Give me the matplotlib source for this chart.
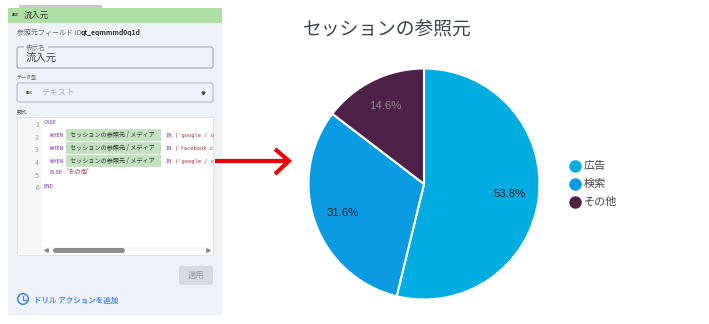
import math
import matplotlib
matplotlib.use("Agg")
import matplotlib.pyplot as plt
from matplotlib.patches import Rectangle, FancyBboxPatch, Circle

plt.rcParams['font.family'] = ['Noto Sans CJK JP', 'DejaVu Sans']

categories = ['広告', '検索', 'その他']
values = [53.8, 31.6, 14.6]
colors = ['#00ACE0', '#0A9BE3', '#4E2148']
label_colors = ['#222222', '#222222', '#8A8A8A']
title = 'セッションの参照元'
W, H = 709, 324
fig = plt.figure(figsize=(W/100, H/100), dpi=100, facecolor='white')

# pixel-coordinate overlay for the screenshot panel
ui = fig.add_axes([0, 0, 1, 1])
ui.set_xlim(0, W); ui.set_ylim(H, 0); ui.axis('off')

def rect(x, y, w, h, fc, ec='none', lw=0, z=1):
    ui.add_patch(Rectangle((x, y), w, h, fc=fc, ec=ec, lw=lw, zorder=z))
def rrect(x, y, w, h, fc, ec='none', lw=0.7, z=2, r=2):
    ui.add_patch(FancyBboxPatch((x+r, y+r), w-2*r, h-2*r, boxstyle=f'round,pad={r}', fc=fc, ec=ec, lw=lw, zorder=z))
def txt(x, y, s, size=6, color='#444444', **kw):
    kw.setdefault('va', 'center')
    ui.text(x, y, s, fontsize=size, color=color, zorder=6, **kw)
def code(x, y, s, color='#8A2BA8', size=3.9):
    txt(x, y, s, size, color, family=['DejaVu Sans Mono'])

rect(19, 5, 83, 3, '#C9C9C9')
rect(8, 8, 214, 307, '#EEF2F8', z=1)
rect(8, 8, 214, 15, '#AEE0A6', z=2)
txt(11, 15, 'ABC', 2.6, '#333333', fontweight='bold')
txt(24, 15, '流入元', 6, '#333333')
txt(17, 33, '参照元フィールド ID:', 5, '#666666')
txt(81, 33, 'qt_eqmmmd0q1d', 4.9, '#333333', fontweight='bold')
rrect(17, 47, 196, 21, '#EEF2F8', ec='#9A9FA6')
rect(24, 45, 24, 4, '#EEF2F8', z=3)
txt(26, 48, '表示名', 4.8, '#777777')
txt(26, 57.5, '流入元', 7.5, '#444444')
txt(17, 78, 'データ型', 3.6, '#555555')
rrect(17, 83, 196, 19, '#EEF2F8', ec='#B0B4BA')
txt(25, 92.5, 'ABC', 2.6, '#444444', fontweight='bold')
txt(41, 92.5, 'テキスト', 6, '#AAAAAA')
ui.plot([203], [92.5], marker='v', ms=2, color='#444444', zorder=4)
txt(17, 112, '数式', 3.8, '#555555')
rect(17, 117, 196, 138, '#FFFFFF', ec='#DDDDDD', lw=0.6, z=2)
rect(18, 118, 24, 136, '#F6F6F6', z=3)
rect(42, 246, 170, 8, '#FBFBFB', z=3)
ys = [122, 135, 148, 161, 172, 186]
line_y = [125, 138, 150, 163, 176, 188]
for i, y in enumerate(line_y):
    txt(39, y, str(i+1), 5, '#999999', ha='right')
code(44, ys[0], 'CASE')
code(44, ys[5], 'END')
tails = ["('google / o", "('facebook.c", "('google / c"]
for y, tail in zip(ys[1:4], tails):
    code(50, y+0.5, 'WHEN')
    rect(66, y-6, 95, 12, '#C2E2C0', z=4)
    txt(70, y, 'セッションの参照元 / メディア', 4.4, '#333333')
    code(165, y+0.5, 'IN')
    code(175, y+0.5, tail, '#A8333A')
code(50, ys[4], 'ELSE')
txt(66, ys[4], "'その他'", 4.6, '#A8333A')
ui.plot([46], [250], marker='<', ms=2.5, color='#888888', zorder=5)
ui.plot([208], [250], marker='>', ms=2.5, color='#888888', zorder=5)
ui.plot([55, 122], [250, 250], color='#8C8C8C', lw=3.6, solid_capstyle='round', zorder=5)
rrect(179, 266, 34, 19, '#D6DAE0', z=3)
txt(196, 275.5, '適用', 6, '#999999', ha='center')
ui.add_patch(Circle((23, 299), 5.3, fc='none', ec='#3B82E8', lw=1.1, zorder=5))
ui.plot([23, 23, 26], [296, 300, 300], color='#3B82E8', lw=0.9, zorder=5)
txt(34, 300, 'ドリル アクションを追加', 5.4, '#4A8CE8', fontweight='bold')

# red arrow
ui.plot([215, 288], [161, 161], color='#EE0000', lw=3, zorder=7, solid_capstyle='butt')
ui.plot([275, 289, 275], [149, 161, 174], color='#EE0000', lw=3, zorder=7,
        solid_joinstyle='miter', solid_capstyle='butt')

# chart title
txt(303, 29.5, title, 13.5, '#3F4448')

# pie
cx, cy, R = 424, 184, 115.5
pie_ax = fig.add_axes([(cx-R)/W, 1-(cy+R)/H, 2*R/W, 2*R/H])
wedges, _ = pie_ax.pie(values, colors=colors, startangle=90, counterclock=False, radius=1,
                       wedgeprops=dict(edgecolor='white', linewidth=1.5))
pie_ax.set_xlim(-1, 1); pie_ax.set_ylim(-1, 1)
pie_ax.patch.set_alpha(0)
cum = 0
for v, c in zip(values, label_colors):
    ang = math.radians(90 - (cum + v/2) * 3.6)
    pie_ax.text(0.75*math.cos(ang), 0.75*math.sin(ang), f'{v:.1f}%', ha='center', va='center', fontsize=8.2,
                color=c, family=['Liberation Sans'])
    cum += v

# legend
for y, name, c in zip([166, 183.5, 201.5], categories, colors):
    ui.plot([575], [y], marker='o', ms=9, color=c, mec='none', zorder=5)
    txt(584, y, name, 8, '#444444')

fig.savefig('out.png', dpi=100)
